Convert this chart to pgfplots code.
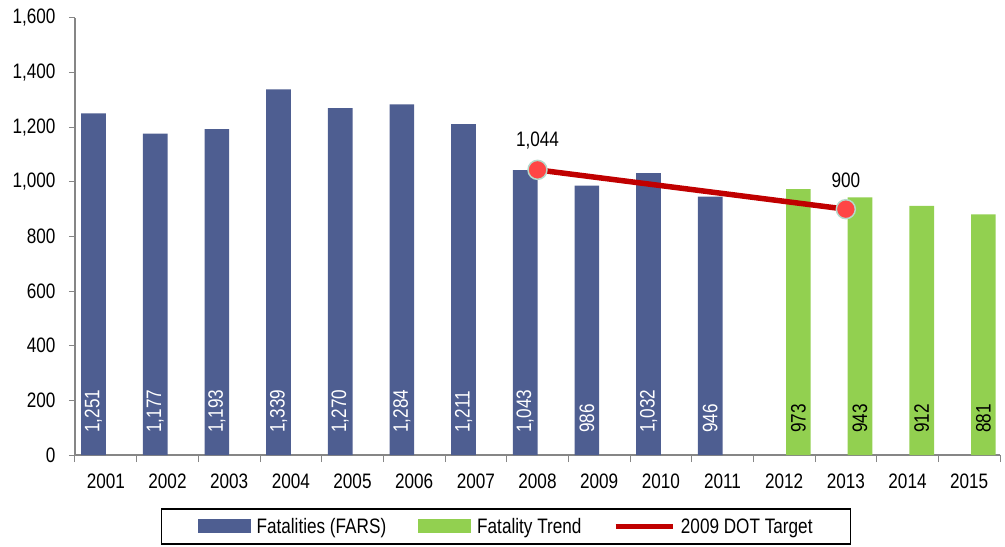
\documentclass[border=0pt]{standalone}
\usepackage{fontspec}
\setmainfont[FakeStretch=0.82]{Liberation Sans}
\usepackage{pgfplots}
\pgfplotsset{compat=1.18}
\definecolor{fblue}{HTML}{4E5E91}
\definecolor{fgreen}{HTML}{92D050}
\definecolor{fred}{HTML}{C00000}
\definecolor{mred}{HTML}{FF4545}
\definecolor{medge}{HTML}{B5D9CB}
\definecolor{axgray}{HTML}{868686}
\newcommand{\cfont}{\fontsize{21}{24}\selectfont}
\begin{document}
\begin{tikzpicture}
\begin{axis}[name=ax,
  width=925bp, height=437bp, scale only axis,
  xmin=-0.5, xmax=14.5, ymin=0, ymax=1600,
  xtick={0,...,14},
  xticklabels={2001,2002,2003,2004,2005,2006,2007,2008,2009,2010,2011,2012,2013,2014,2015},
  minor xtick={-0.5,0.5,...,14.5},
  major x tick style={draw=none},
  ytick={0,200,...,1600},
  axis x line*=bottom, axis y line*=left,
  axis line style={axgray, line width=1.2bp},
  tick style={axgray, line width=1bp},
  tick align=outside,
  major tick length=6bp, minor tick length=7bp,
  /pgf/number format/assume math mode=true,
  /pgf/number format/1000 sep={,},
  tick label style={font=\cfont, text=black},
  yticklabel style={xshift=-10bp},
  xticklabel style={yshift=-9bp},
  legend style={at={(0.466,-0.1636)}, anchor=center, legend columns=3,
    draw=black, line width=1.5bp, font=\cfont, inner xsep=36bp, inner ysep=7bp,
    /tikz/every even column/.append style={column sep=30bp},
    /tikz/every odd column/.append style={column sep=4bp}},
  legend cell align=left,
]
\addplot[ybar, bar width=0.4, bar shift=-0.2, fill=fblue, draw=none,
  visualization depends on=rawy \as \rawy,
  nodes near coords,
  every node near coord/.append style={shift={(axis direction cs:0,-\rawy)}, xshift=-12.3bp, yshift=22bp, rotate=90, anchor=west, text=white, font=\cfont, inner sep=0pt},
  legend image code/.code={\fill[fblue] (0bp,-7bp) rectangle (53bp,7bp);}]
  coordinates {(0,1251) (1,1177) (2,1193) (3,1339) (4,1270) (5,1284) (6,1211) (7,1043) (8,986) (9,1032) (10,946)};
\addlegendentry{Fatalities (FARS)}
\addplot[ybar, bar width=0.4, bar shift=0.23, fill=fgreen, draw=none,
  visualization depends on=rawy \as \rawy,
  nodes near coords,
  every node near coord/.append style={shift={(axis direction cs:0,-\rawy)}, xshift=14.2bp, yshift=22bp, rotate=90, anchor=west, text=black, font=\cfont, inner sep=0pt},
  legend image code/.code={\fill[fgreen] (0bp,-7bp) rectangle (53bp,7bp);}]
  coordinates {(11,973) (12,943) (13,912) (14,881)};
\addlegendentry{Fatality Trend}
\addplot[fred, line width=5.5bp, mark=*, mark size=9.5bp,
  mark options={fill=mred, draw=medge, line width=1.5bp},
  nodes near coords,
  every node near coord/.append style={text=black, font=\cfont, anchor=south, yshift=17bp},
  legend image code/.code={\draw[fred, line width=4.5bp] (0bp,0bp) -- (57bp,0bp);}]
  coordinates {(7,1044) (12,900)};
\addlegendentry{2009 DOT Target}
\end{axis}
\pgfresetboundingbox
\path[use as bounding box] ([shift={(-75bp,-92bp)}]ax.south west) rectangle ([shift={(5bp,18bp)}]ax.north east);
\end{tikzpicture}
\end{document}
